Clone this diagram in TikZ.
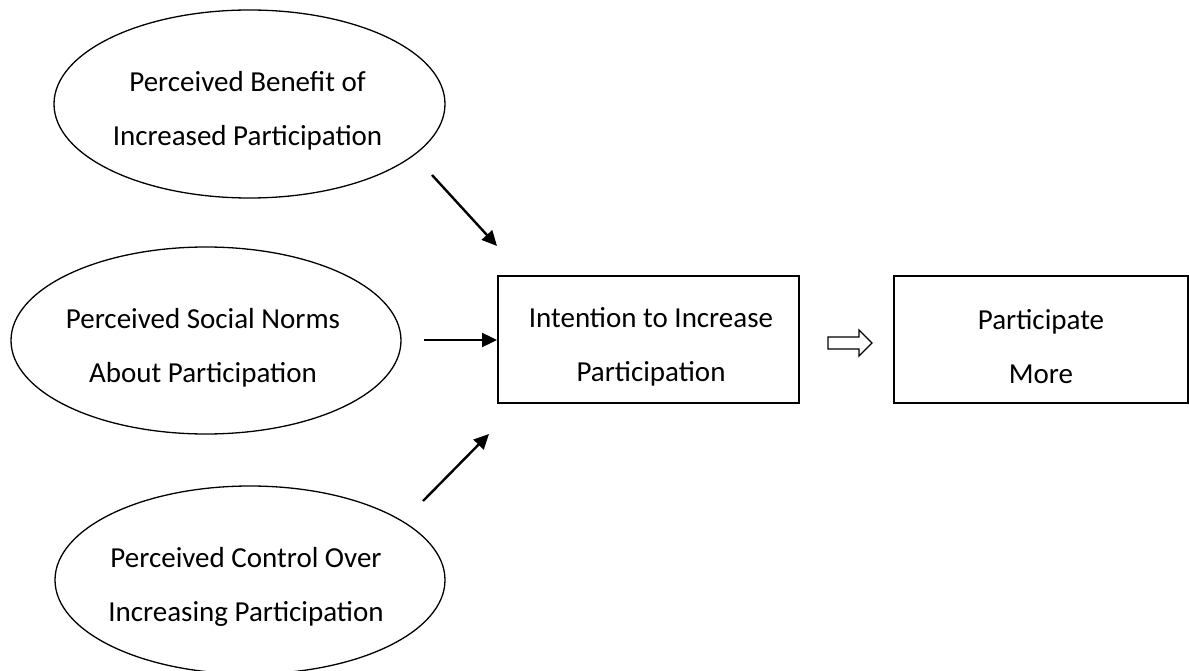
\documentclass[tikz,border=0pt]{standalone}
\usepackage{fontspec}
\setmainfont{Carlito}
\usetikzlibrary{shapes.geometric,arrows.meta,calc}
\tikzset{
  oval/.style={ellipse, draw, line width=1.3pt, inner sep=0pt},
  boxnode/.style={rectangle, draw, line width=1.3pt, inner sep=0pt},
  lbl/.style={align=center, inner sep=0pt, font=\fontsize{29}{54}\selectfont},
  arr/.style={line width=2.4pt, -{Triangle[length=15pt,width=14pt]}},
  hollow/.style={draw, line width=1.3pt, fill=white, line join=miter}
}
\begin{document}
\begin{tikzpicture}[x=1pt,y=-1pt]
\useasboundingbox (0,0) rectangle (1189,671);
% ellipses
\node[oval, minimum width=391pt, minimum height=188pt] (e1) at (249.5,104) {};
\node[oval, minimum width=390pt, minimum height=187pt] (e2) at (206,340.5) {};
\node[oval, minimum width=390pt, minimum height=188pt] (e3) at (250,580) {};
\node[lbl] (t1) at (247.5,111) {Perceived Benefit of\\Increased Participation};
\node[lbl] (t2) at (203,347.5) {Perceived Social Norms\\About Participation};
\node[lbl] (t3) at (246,587) {Perceived Control Over\\Increasing Participation};
% boxes
\node[boxnode, minimum width=301pt, minimum height=127pt] (b1) at (648.5,339.5) {};
\node[boxnode, minimum width=294pt, minimum height=127pt] (b2) at (1041,339.5) {};
\node[lbl] (tb1) at (651,346.5) {Intention to Increase\\Participation};
\node[lbl] (tb2) at (1041,346.5) {Participate\\More};
% arrows
\coordinate (a1s) at (432,175);
\coordinate (a1e) at (497,246);
\coordinate (a2s) at (424,340);
\coordinate (a2e) at (497,340);
\coordinate (a3s) at (423,501);
\coordinate (a3e) at (489,434);
\draw[arr] (a1s) -- (a1e);
\draw[arr] (a2s) -- (a2e);
\draw[arr] (a3s) -- (a3e);
% hollow block arrow
\coordinate (h0) at (828,343);
\draw[hollow] (h0) ++(0,-6) -- ++(31,0) -- ++(0,-7) -- (872,343) -- (859,356) -- ++(0,-7) -- ++(-31,0) -- cycle;
\end{tikzpicture}
\end{document}
